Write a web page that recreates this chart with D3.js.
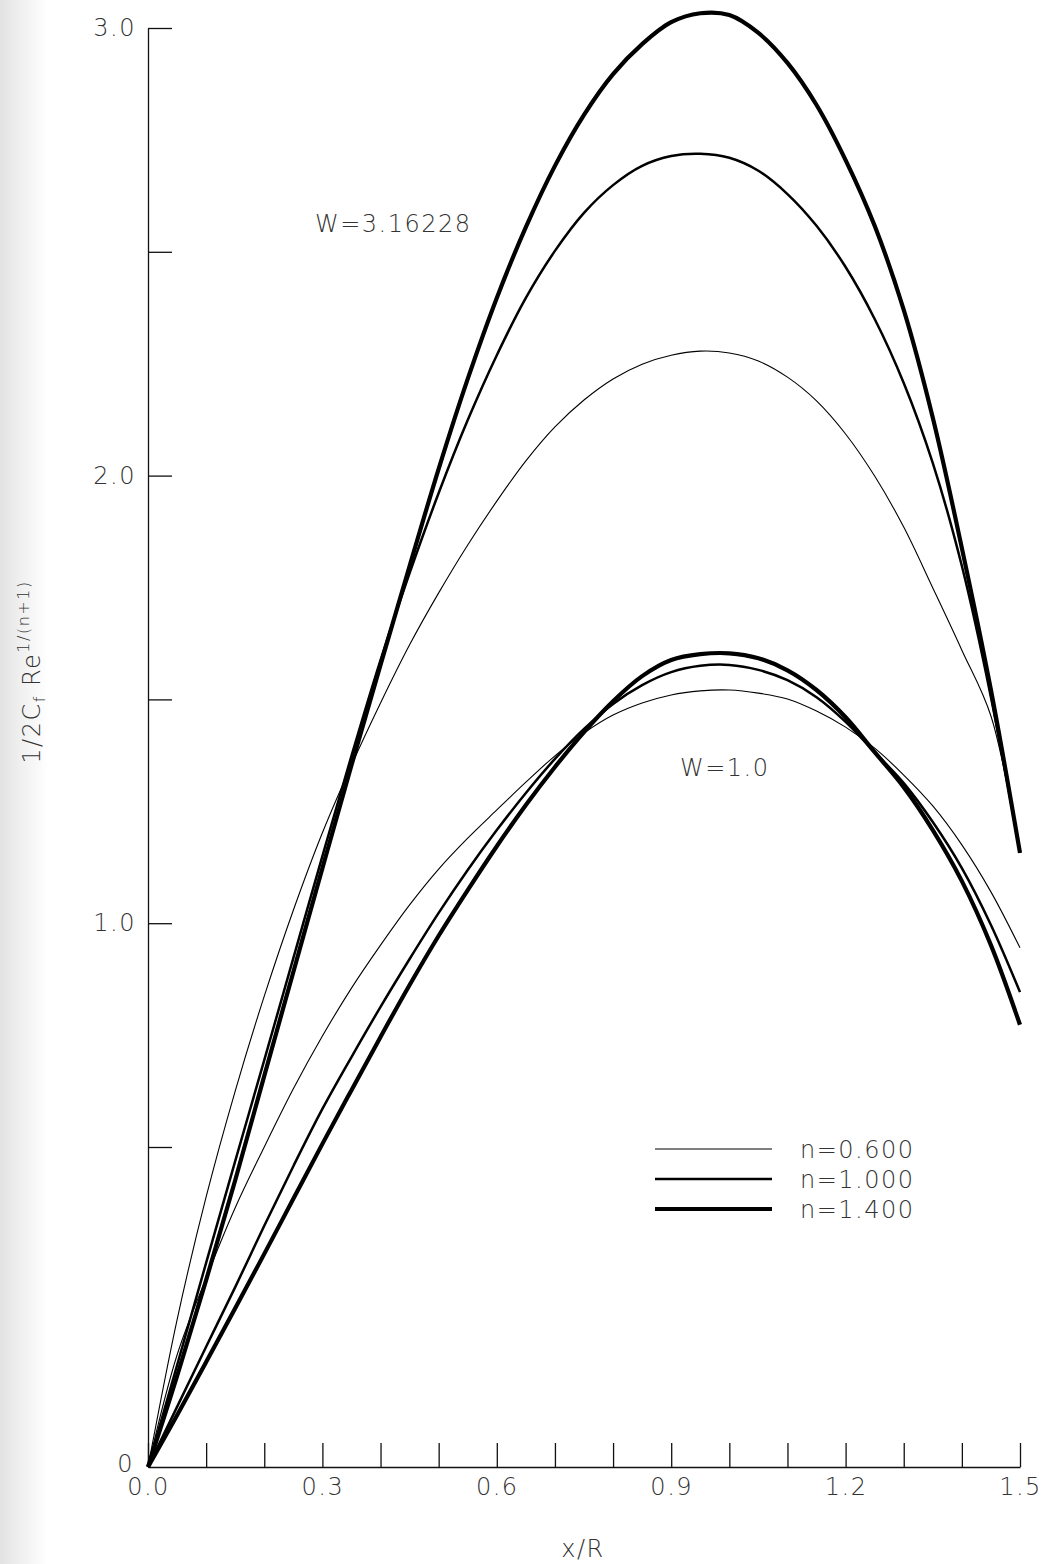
<!DOCTYPE html>
<html>
<head>
<meta charset="utf-8">
<script src="https://cdn.jsdelivr.net/npm/d3@7"></script>
<style>
  body { margin: 0; background: #fff; }
  text { font-family: "DejaVu Sans", "Liberation Sans", sans-serif; font-weight: 200; fill: #333; letter-spacing: 1.5px; }
</style>
</head>
<body>
<script>
// x/R stations shared by all curves
const xR = [0, 0.05, 0.10, 0.15, 0.20, 0.25, 0.30, 0.35, 0.40, 0.45, 0.50, 0.55, 0.60, 0.65, 0.70, 0.75,
  0.80, 0.85, 0.90, 0.95, 1.00, 1.05, 1.10, 1.15, 1.20, 1.25, 1.30, 1.35, 1.40, 1.45, 1.50];

// 1/2 Cf Re^(1/(n+1)), W = 3.16228
const w3_n06 = [0, 0.230, 0.422, 0.625, 0.837, 1.029, 1.202, 1.353, 1.492, 1.622, 1.738, 1.845, 1.943, 2.033,
  2.109, 2.169, 2.216, 2.249, 2.269, 2.278, 2.274, 2.256, 2.220, 2.167, 2.093, 1.999, 1.885, 1.749, 1.610, 1.463, 1.157];
const w3_n10 = [0, 0.159, 0.319, 0.478, 0.694, 0.922, 1.150, 1.374, 1.588, 1.782, 1.961, 2.124, 2.269, 2.397,
  2.502, 2.587, 2.649, 2.692, 2.714, 2.719, 2.710, 2.681, 2.629, 2.558, 2.466, 2.350, 2.207, 2.028, 1.798, 1.505, 1.157];
const w3_n14 = [0, 0.142, 0.292, 0.448, 0.659, 0.891, 1.123, 1.353, 1.577, 1.798, 2.015, 2.216, 2.397, 2.555,
  2.692, 2.806, 2.897, 2.964, 3.013, 3.033, 3.029, 2.989, 2.922, 2.828, 2.705, 2.558, 2.370, 2.129, 1.838, 1.521, 1.157];

// W = 1.0
const w1_n06 = [0, 0.175, 0.295, 0.405, 0.500, 0.630, 0.748, 0.855, 0.951, 1.041, 1.121, 1.190, 1.253, 1.315,
  1.374, 1.425, 1.465, 1.492, 1.510, 1.519, 1.521, 1.514, 1.501, 1.474, 1.438, 1.391, 1.331, 1.262, 1.175, 1.070, 0.945];
const w1_n10 = [0, 0.094, 0.188, 0.281, 0.377, 0.470, 0.585, 0.701, 0.813, 0.920, 1.023, 1.119, 1.208, 1.291,
  1.367, 1.434, 1.490, 1.532, 1.561, 1.575, 1.577, 1.566, 1.543, 1.505, 1.450, 1.382, 1.313, 1.226, 1.123, 0.996, 0.846];
const w1_n14 = [0, 0.081, 0.164, 0.248, 0.333, 0.419, 0.507, 0.627, 0.746, 0.862, 0.972, 1.074, 1.172, 1.264,
  1.349, 1.427, 1.496, 1.552, 1.588, 1.601, 1.603, 1.592, 1.565, 1.521, 1.460, 1.382, 1.304, 1.208, 1.094, 0.951, 0.773];

const legendLabels = ["n=0.600", "n=1.000", "n=1.400"];
const lineWidths = [1.1, 2.5, 4.2];
const xTicks = [0, 0.1, 0.2, 0.3, 0.4, 0.5, 0.6, 0.7, 0.8, 0.9, 1.0, 1.1, 1.2, 1.3, 1.4, 1.5];
const xLabelled = [0, 0.3, 0.6, 0.9, 1.2, 1.5];
const yTicks = [0.5, 1.0, 1.5, 2.0, 2.5, 3.0];

const width = 1045, height = 1564;

const svg = d3.select("body").append("svg")
  .attr("width", width)
  .attr("height", height);

// faint scanner shading on the left edge
const grad = svg.append("defs").append("linearGradient").attr("id", "edge");
grad.append("stop").attr("offset", "0%").attr("stop-color", "#e2e2e2");
grad.append("stop").attr("offset", "40%").attr("stop-color", "#efefef");
grad.append("stop").attr("offset", "100%").attr("stop-color", "#fff");
svg.append("rect").attr("x", 0).attr("y", 0).attr("width", 48).attr("height", height).attr("fill", "url(#edge)");

const x = d3.scaleLinear().domain([0, 1.5]).range([148, 1020]);
// the original axis is stretched below 0.5
const y = d3.scaleLinear().domain([0, 0.5, 3.0]).range([1467, 1147, 28]);

const xAxis = svg.append("g")
  .attr("transform", "translate(0,1467)")
  .call(d3.axisBottom(x)
    .tickValues(xTicks)
    .tickSize(-24)
    .tickSizeOuter(0)
    .tickPadding(11)
    .tickFormat(d => xLabelled.some(v => Math.abs(v - d) < 1e-6) ? d.toFixed(1) : ""));

const yAxis = svg.append("g")
  .attr("transform", "translate(148,0)")
  .call(d3.axisLeft(y)
    .tickValues(yTicks)
    .tickSize(-24)
    .tickSizeOuter(0)
    .tickPadding(12)
    .tickFormat(d => d % 1 === 0 ? d.toFixed(1) : ""));

[xAxis, yAxis].forEach(g => {
  g.select(".domain").attr("stroke", "#111").attr("stroke-width", 1.3);
  g.selectAll(".tick line").attr("stroke", "#111").attr("stroke-width", 1.3);
  g.selectAll(".tick text").attr("font-size", 24).attr("fill", "#333")
    .style("font-family", "DejaVu Sans, sans-serif");
});

svg.append("text").attr("x", 134).attr("y", 1472).attr("text-anchor", "end")
  .attr("font-size", 24).text("0");

const line = d3.line()
  .x((d, i) => x(xR[i]))
  .y(d => y(d))
  .curve(d3.curveCatmullRom.alpha(0.5));

const series = [
  { data: w3_n06, w: 0 }, { data: w1_n06, w: 0 },
  { data: w3_n10, w: 1 }, { data: w1_n10, w: 1 },
  { data: w3_n14, w: 2 }, { data: w1_n14, w: 2 }
];

svg.append("g").selectAll("path")
  .data(series)
  .enter().append("path")
  .attr("d", d => line(d.data))
  .attr("fill", "none")
  .attr("stroke", "#000")
  .attr("stroke-width", d => lineWidths[d.w])
  .attr("stroke-linejoin", "round");

// curve family labels
svg.append("text").attr("x", 315).attr("y", 232).attr("font-size", 24).text("W=3.16228");
svg.append("text").attr("x", 680).attr("y", 776).attr("font-size", 24).text("W=1.0");

// legend
const legend = svg.append("g").selectAll("g")
  .data(legendLabels)
  .enter().append("g")
  .attr("transform", (d, i) => `translate(655,${1149 + i * 30})`);
legend.append("line")
  .attr("x1", 0).attr("x2", 117)
  .attr("stroke", "#000")
  .attr("stroke-width", (d, i) => lineWidths[i]);
legend.append("text")
  .attr("x", 145).attr("y", 9)
  .attr("font-size", 24)
  .text(d => d);

// axis titles
svg.append("text").attr("x", 583).attr("y", 1557).attr("text-anchor", "middle")
  .attr("font-size", 24).text("x/R");

const yt = svg.append("text")
  .attr("transform", "translate(40,672) rotate(-90)")
  .attr("text-anchor", "middle")
  .attr("font-size", 24);
yt.append("tspan").text("1/2C");
yt.append("tspan").attr("font-size", 16).attr("dy", 5).text("f");
yt.append("tspan").attr("dy", -5).text(" Re");
yt.append("tspan").attr("font-size", 16).attr("dy", -11).text("1/(n+1)");
</script>
</body>
</html>
